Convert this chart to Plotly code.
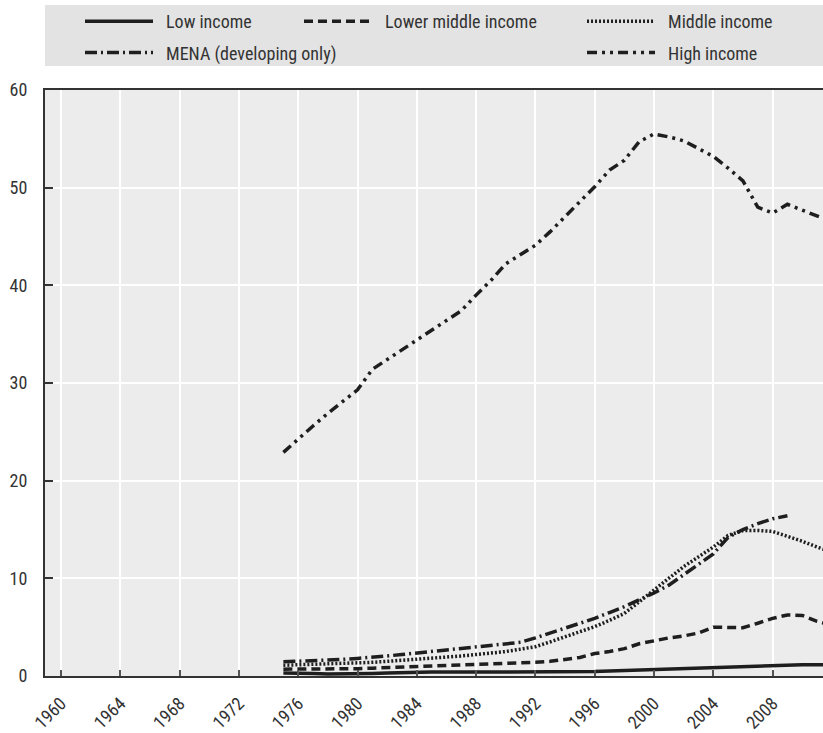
import plotly.graph_objects as go

years = list(range(1975, 2013))

low_income = [0.3, 0.3, 0.25, 0.2, 0.2, 0.2, 0.25, 0.3, 0.35, 0.35,
              0.4, 0.4, 0.4, 0.45, 0.45, 0.45, 0.45, 0.45, 0.45, 0.45,
              0.45, 0.45, 0.5, 0.55, 0.6, 0.65, 0.7, 0.75, 0.8, 0.85,
              0.95, 1.0, 1.05, 1.1, 1.15, 1.15, 1.15, 1.15]

lower_middle = [0.7, 0.7, 0.7, 0.7, 0.7, 0.75, 0.8, 0.85, 0.9, 0.95,
                1.0, 1.05, 1.1, 1.15, 1.2, 1.25, 1.3, 1.4, 1.5, 1.7,
                1.9, 2.3, 2.5, 2.8, 3.3, 3.6, 3.9, 4.1, 4.4, 5.0,
                5.0, 4.95, 5.4, 5.9, 6.25, 6.2, 5.6, 5.2]

middle_income = [1.1, 1.15, 1.2, 1.2, 1.25, 1.3, 1.4, 1.5, 1.6, 1.7,
                 1.85, 1.95, 2.05, 2.2, 2.35, 2.5, 2.75, 3.0, 3.5, 4.0,
                 4.5, 5.05, 5.7, 6.4, 7.6, 8.8, 10.0, 11.2, 12.2, 13.2,
                 14.4, 14.9, 14.9, 14.8, 14.3, 13.8, 13.2, 12.7]

mena = [1.45, 1.5, 1.6, 1.65, 1.7, 1.8, 1.9, 2.05, 2.2, 2.35,
        2.5, 2.65, 2.8, 2.95, 3.1, 3.25, 3.45, 3.9, 4.4, 4.9,
        5.4, 5.9, 6.5, 7.1, 7.8, 8.5, 9.3, 10.4, 11.5, 12.5,
        14.2, 15.0, 15.6, 16.1, 16.4]

high_income = [22.9, 24.3, 25.6, 26.9, 28.1, 29.3, 31.4, 32.4, 33.4, 34.4,
               35.3, 36.4, 37.4, 39.0, 40.5, 42.2, 43.1, 44.1, 45.5, 47.0,
               48.6, 50.1, 51.8, 52.8, 54.7, 55.5, 55.2, 54.8, 54.0, 53.2,
               52.0, 50.7, 48.0, 47.4, 48.3, 47.7, 47.1, 46.5]

INK = "#1e1e1e"
FONT = "Liberation Sans Narrow, Roboto Condensed, Arial Narrow, Liberation Sans, sans-serif"
PAD = "\u2002"  # en space: widens the gap between legend sample and label

series = [
    ("Low income", low_income, "solid", "legend"),
    ("Lower middle income", lower_middle, "9px,5px", "legend2"),
    ("Middle income", middle_income, "2px,2px", "legend3"),
    ("MENA (developing only)", mena, "12px,4px,2px,4px", "legend"),
    ("High income", high_income, "10px,5px,3px,5px,3px,5px", "legend3"),
]

fig = go.Figure()
for name, vals, dash, leg in series:
    fig.add_trace(go.Scatter(
        x=years[:len(vals)], y=vals, mode="lines", name=PAD + name,
        legend=leg, legendgroup=name,
        line=dict(color=INK, width=3.5, dash=dash),
    ))

# grey band behind the legends
fig.add_shape(type="rect", xref="paper", yref="paper",
              x0=0, x1=1, y0=1.041, y1=1.145,
              fillcolor="#e3e3e3", line_width=0, layer="below")

leg_common = dict(
    orientation="v", bgcolor="rgba(0,0,0,0)", itemwidth=68,
    font=dict(family=FONT, size=18, color="#333"),
    tracegroupgap=5, xref="container", yref="paper",
    xanchor="left", yanchor="top", itemclick=False,
)
fig.update_layout(
    width=823, height=733,
    margin=dict(l=45, r=0, t=90, b=57, autoexpand=False),
    plot_bgcolor="#ececec", paper_bgcolor="white",
    font=dict(family=FONT, size=18, color="#333"),
    showlegend=True,
    legend=dict(x=0.0972, y=1.1485, **leg_common),
    legend2=dict(x=0.3633, y=1.1485, **leg_common),
    legend3=dict(x=0.7072, y=1.1485, **leg_common),
    xaxis=dict(
        range=[1958.92, 2011.4], tick0=1960, dtick=4,
        showgrid=True, gridcolor="white", gridwidth=1.5,
        ticks="inside", ticklen=6, tickcolor="#555", tickwidth=1.5,
        tickangle=-45, tickfont=dict(size=18), ticklabelstandoff=8,
        showline=True, linecolor="#333", linewidth=2, mirror=True,
        zeroline=False,
    ),
    yaxis=dict(
        range=[0, 60], dtick=10,
        showgrid=True, gridcolor="white", gridwidth=1.5,
        ticks="inside", ticklen=8, tickcolor="#333", tickwidth=1.5,
        tickfont=dict(size=18), ticklabelstandoff=12,
        showline=True, linecolor="#333", linewidth=2,
        zeroline=False,
    ),
)

# drop the default page margin so the figure sits at the window's corner
fig.write_html(
    "out.html",
    config={"displayModeBar": False},
    post_script="document.body.style.margin='0';document.body.style.overflow='hidden';",
)
